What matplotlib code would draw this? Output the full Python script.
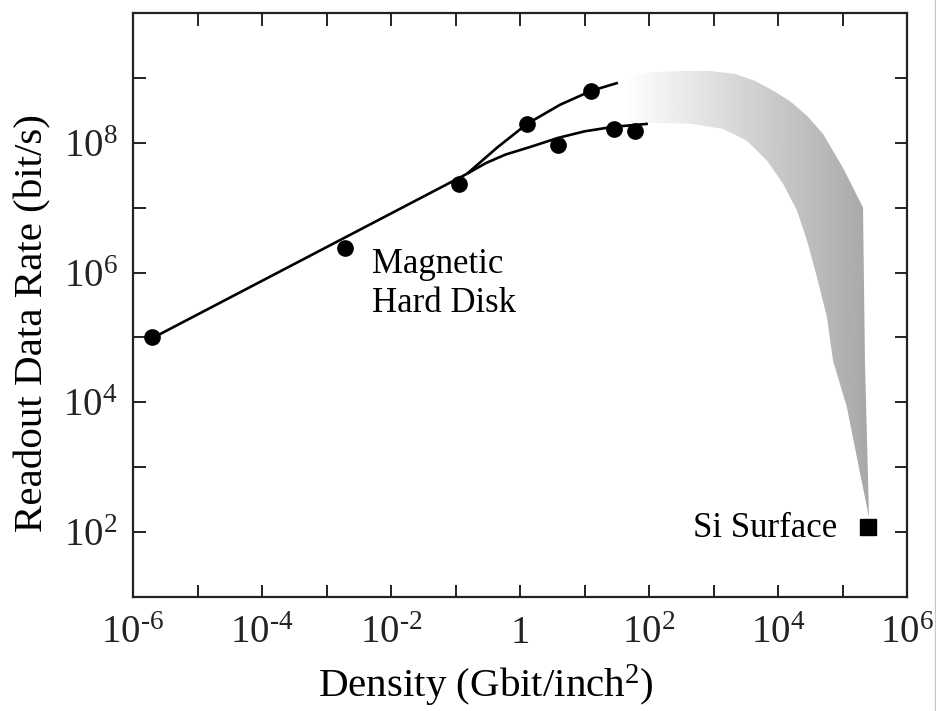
import numpy as np
import matplotlib
matplotlib.use("Agg")
import matplotlib.pyplot as plt
from matplotlib.patches import Polygon
from matplotlib.lines import Line2D
from matplotlib.ticker import FixedLocator, FuncFormatter, NullLocator

# Données (densité en Gbit/inch^2, débit en bit/s)
disk_x = [2.0e-6, 1.94e-3, 0.113, 1.29, 12.6, 3.88, 28.6, 60.7]
disk_y = [1.0e5, 2.35e6, 2.34e7, 1.96e8, 6.3e8, 9.3e7, 1.64e8, 1.53e8]

# Tendance commune puis deux branches
trunk_x = [1.97e-6, 0.151]
trunk_y = [9.7e4, 3.33e7]
upper_x = [0.151, 0.44, 1.29, 4.17, 12.6, 33.0]
upper_y = [3.33e7, 8.4e7, 1.96e8, 3.85e8, 6.3e8, 8.4e8]
lower_x = [0.151, 0.30, 0.60, 1.43, 3.9, 10.0, 27.7, 96.0]
lower_y = [3.33e7, 4.9e7, 6.6e7, 8.6e7, 1.19e8, 1.5e8, 1.76e8, 1.96e8]

# Bande grise : bord haut (gauche -> droite), bord droit, bord bas (retour)
band_top_x = [42.5, 81, 303, 883, 2150, 4400, 8070, 1.53e4, 2.82e4, 4.99e4, 1.02e5, 2.08e5]
band_top_y = [1.11e9, 1.19e9, 1.28e9, 1.28e9, 1.15e9, 9.0e8, 6.5e8, 4.4e8, 2.6e8, 1.37e8, 4.1e7, 1.0e7]
band_right_x = [2.23e5, 2.40e5, 2.58e5]
band_right_y = [4.4e4, 2.6e3, 170]
band_low_x = [1.87e5, 1.17e5, 7.13e4, 5.75e4, 4.03e4, 2.82e4, 1.97e4, 1.2e4, 6750, 3300, 1400, 433, 104, 42.5]
band_low_y = [809, 8.4e3, 4.4e4, 2.03e5, 8.4e5, 3.1e6, 9.0e6, 2.34e7, 5.3e7, 1.07e8, 1.64e8, 1.96e8, 2.03e8, 2.03e8]

si_x = [2.48e5]
si_y = [119]

x_exponents = list(range(-6, 7))
y_exponents = list(range(2, 10))

plt.rcParams['font.family'] = ['Liberation Serif', 'DejaVu Serif']
plt.rcParams['mathtext.fontset'] = 'custom'
plt.rcParams['mathtext.rm'] = 'Liberation Serif'
plt.rcParams['mathtext.it'] = 'Liberation Serif:italic'

fig = plt.figure(figsize=(9.37, 7.11), dpi=100)
ax = fig.add_axes([133 / 937, 1 - 597 / 711, 774 / 937, 584 / 711])
ax.set_xscale('log')
ax.set_yscale('log')

# Bande avec dégradé horizontal
band_x = band_top_x + band_right_x + band_low_x
band_y = band_top_y + band_right_y + band_low_y
band = Polygon(np.column_stack([band_x, band_y]), closed=True,
               facecolor='none', edgecolor='none')
ax.add_patch(band)
frac = np.linspace(0, 1, 600)
grad = np.interp(frac, [0.0, 0.636, 0.95, 1.0], [1.0, 1.0, 0.66, 0.66])
img = ax.imshow(grad[np.newaxis, :], extent=[0, 1, 0, 1], transform=ax.transAxes,
                cmap='gray', vmin=0, vmax=1, aspect='auto',
                interpolation='bilinear', zorder=1)
img.set_clip_path(band)

# Courbes et points
for xs, ys in [(trunk_x, trunk_y), (upper_x, upper_y), (lower_x, lower_y)]:
    ax.plot(xs, ys, '-', color='black', lw=1.9, zorder=3, solid_capstyle='butt')
ax.plot(disk_x, disk_y, 'o', color='black', ms=11, zorder=4)
ax.plot(si_x, si_y, 's', color='black', ms=12, zorder=4)

# Textes
ax.text(5.07e-3, 1.0e6, "Magnetic", fontsize=25, ha='left', va='baseline')
ax.text(5.07e-3, 2.43e5, "Hard Disk", fontsize=25, ha='left', va='baseline')
ax.text(8.2e4, 84, "Si Surface", fontsize=25, ha='right', va='baseline')

ax.set_xlim(1e-6, 1e6)
ax.set_ylim(1e1, 1e10)


def sup(e):
    if e < 0:
        return r"$10^{\text{-}%d}$" % (-e)
    return "$10^{%d}$" % e


def fmt_x(v, pos):
    e = int(round(np.log10(v)))
    if e % 2:
        return ""
    if e == 0:
        return "$1$"
    return sup(e)


def fmt_y(v, pos):
    e = int(round(np.log10(v)))
    if e % 2:
        return ""
    return sup(e)


ax.xaxis.set_major_locator(FixedLocator([10.0 ** e for e in x_exponents]))
ax.yaxis.set_major_locator(FixedLocator([10.0 ** e for e in y_exponents]))
ax.xaxis.set_minor_locator(NullLocator())
ax.yaxis.set_minor_locator(NullLocator())
ax.xaxis.set_major_formatter(FuncFormatter(fmt_x))
ax.yaxis.set_major_formatter(FuncFormatter(fmt_y))

ax.tick_params(axis='both', which='major', direction='in', length=9, width=1.4,
               top=True, right=True, labelsize=28, colors='#222222')
ax.tick_params(axis='x', pad=33)
ax.tick_params(axis='y', pad=11)
for lbl in ax.get_xticklabels():
    lbl.set_va('baseline')

for sp in ax.spines.values():
    sp.set_linewidth(1.6)
    sp.set_color('#222222')

# Titres des axes
fig.text(485.5 / 937, 1 - 697 / 711, "Density (Gbit/inch$^{2}$)", fontsize=29.5,
         ha='center', va='baseline')
fig.text(42 / 937, 1 - 323.5 / 711, "Readout Data Rate (bit/s)", fontsize=29.5,
         rotation=90, rotation_mode='anchor', ha='center', va='baseline')

fig.add_artist(Line2D([0.998, 0.998], [0, 1], transform=fig.transFigure,
                      color='#c8c8c8', lw=1))

fig.savefig("out.png", dpi=100)
